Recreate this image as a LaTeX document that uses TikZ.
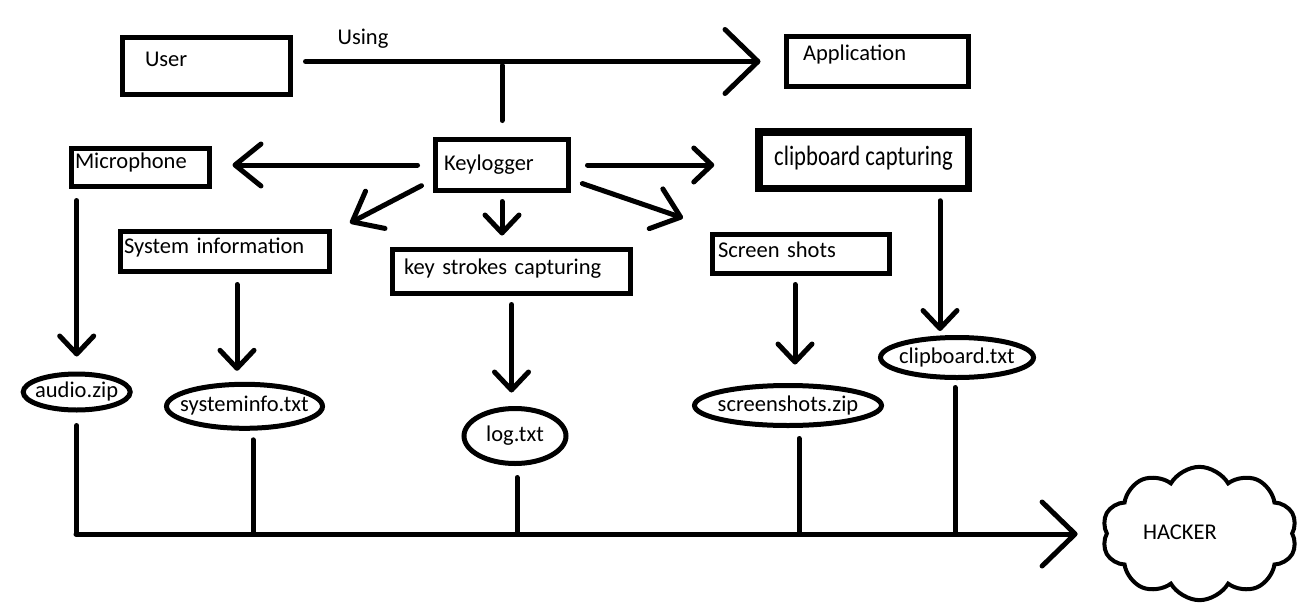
\documentclass[tikz,border=0pt]{standalone}
\usepackage{fontspec}
\usepackage{graphicx}
\setmainfont{Carlito}
\usetikzlibrary{arrows.meta,shapes.geometric,shapes.symbols}
\newcommand{\filetext}[1]{\makebox[0pt]{#1}}
\begin{document}
\begin{tikzpicture}[x=1pt,y=-1pt,line width=5pt,
    every node/.style={font=\fontsize{22.5pt}{27pt}\selectfont, text height=16pt, text depth=5pt},
    box/.style={draw, rectangle, align=left, inner ysep=0pt},
    file/.style={draw, ellipse, inner sep=0pt},
    link/.style={line cap=round},
    bigarr/.style={link, -{Straight Barb[length=33pt,width=64pt,round]}},
    midarr/.style={link, -{Straight Barb[length=26pt,width=42pt,round]}},
    smallarr/.style={link, -{Straight Barb[length=18pt,width=34pt,round]}}]
    \useasboundingbox (0,0) rectangle (1303,608);

    \node [box, minimum width=168pt, minimum height=57pt, text width=122pt, inner xsep=23pt, text depth=15pt] (user) at (206,65.5) {User};
    \node [box, minimum width=182pt, minimum height=50pt, text width=149pt, inner xsep=16.5pt, text depth=19pt] (app) at (877.5,61.5) {Application};
    \node (using) at (363,39) {Using};
    \node [box, minimum height=51pt, text width=116pt, inner xsep=8.5pt] (keylog) at (502,165) {Keylogger};
    \node [box, minimum height=38pt, text width=131pt, inner xsep=3.5pt, text depth=14pt] (mic) at (140.5,167.5) {Microphone};
    \node [box, line width=7.5pt, minimum width=209.5pt, minimum height=56.5pt, align=center, font=\fontsize{28pt}{32pt}\selectfont] (clip) at (863.5,160) {\scalebox{0.81}[1]{clipboard capturing}};
    \node [box, minimum height=40pt, text width=202pt, inner xsep=3.5pt, text depth=12pt] (sysinfo) at (225,251.5) {System information};
    \node [box, minimum height=44pt, text width=215pt, inner xsep=11.5pt, text depth=10pt] (keys) at (511.5,271.5) {key strokes capturing};
    \node [box, minimum height=39pt, text width=166pt, inner xsep=5.5pt, text depth=9pt] (shots) at (801,254) {Screen shots};

    \node [file, minimum width=107pt, minimum height=36pt] (audio) at (76.7,392) {\filetext{audio.zip}};
    \node [file, minimum width=156pt, minimum height=44pt] (sysfile) at (244.5,406.3) {\filetext{systeminfo.txt}};
    \node [file, minimum width=102pt, minimum height=55pt] (log) at (515,436) {\filetext{log.txt}};
    \node [file, minimum width=187pt, minimum height=40pt] (shotsfile) at (788,405.5) {\filetext{screenshots.zip}};
    \node [file, minimum width=153pt, minimum height=40pt] (clipfile) at (957,357.5) {\filetext{clipboard.txt}};

    \node [draw, cloud, cloud puffs=10, cloud puff arc=120, aspect=1.45, line width=4pt, minimum width=195pt, minimum height=133pt, inner sep=0pt, text width=113pt, align=left] (hacker) at (1199.5,533.5) {HACKER};

    \coordinate (toinfo) at (350,223);
    \coordinate (toshots) at (683,218);
    \coordinate (busstart) at (76,534);

    \draw [bigarr, shorten <=13pt, shorten >=23.5pt] (user.east |- app.west) -- (app.west);
    \draw [link, shorten <=4pt, shorten >=16.5pt] (keylog.north |- app.west) -- (keylog.north);
    \draw [midarr, shorten <=15.5pt, shorten >=20.5pt] (keylog.west) -- (keylog.west -| mic.east);
    \draw [smallarr, shorten <=16.5pt, shorten >=40.75pt] (keylog.east) -- (keylog.east -| clip.west);
    \draw [midarr, shorten <=13pt] (keylog.192) -- (toinfo);
    \draw [midarr, shorten <=12pt] (keylog.-12) -- (toshots);
    \draw [smallarr, shorten <=8.5pt, shorten >=11.5pt] (keylog.south) -- (keylog.south |- keys.north);

    \draw [smallarr, shorten <=11.5pt, shorten >=15pt] (mic.south -| audio.north) -- (audio.north);
    \draw [smallarr, shorten <=10.5pt, shorten >=11pt] ([xshift=-7.5pt]sysinfo.south -| sysfile.north) -- ([xshift=-7.5pt]sysfile.north);
    \draw [smallarr, shorten <=8.5pt, shorten >=13.5pt] (keys.south) -- (keys.south |- log.north);
    \draw [smallarr, shorten <=8.5pt, shorten >=18.5pt] ([xshift=-6pt]shots.south) -- ([xshift=-6pt]shots.south |- shotsfile.north);
    \draw [smallarr, shorten <=8.75pt, shorten >=4pt] ([xshift=-17pt]clipfile.north |- clip.south) -- ([xshift=-17pt]clipfile.north);

    \draw [link, shorten <=13pt] (audio.south) -- (audio.south |- busstart);
    \draw [link, shorten <=9pt] ([xshift=8.5pt]sysfile.south) -- ([xshift=8.5pt]sysfile.south |- busstart);
    \draw [link, shorten <=11.5pt] ([xshift=2pt]log.south) -- ([xshift=2pt]log.south |- busstart);
    \draw [link, shorten <=10.5pt] ([xshift=11pt]shotsfile.south) -- ([xshift=11pt]shotsfile.south |- busstart);
    \draw [link, shorten <=7.5pt] ([xshift=-2pt]clipfile.south) -- ([xshift=-2pt]clipfile.south |- busstart);
    \draw [bigarr, shorten >=27pt] (busstart) -- (busstart -| hacker.west);
\end{tikzpicture}
\end{document}
